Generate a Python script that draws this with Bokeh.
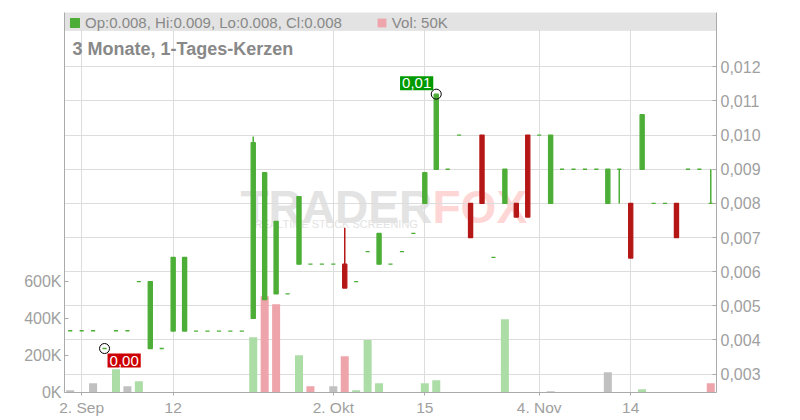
import numpy as np
from bokeh.plotting import figure
from bokeh.models import (Range1d, LinearAxis, FixedTicker, CustomJSTickFormatter,
                          ColumnDataSource, BoxAnnotation, Label, Legend, LegendItem)
from bokeh.embed import file_html
from bokeh.resources import INLINE

# ---------------- data ----------------
opens = [0.00427, 0.00427, 0.00427, 0.00375, 0.00427, 0.00427, 0.00571, 0.00375, 0.00375, 0.00426,
         0.00426, 0.00426, 0.00426, 0.00426, 0.00426, 0.00426, 0.00463, 0.00518, 0.00535, 0.00535,
         0.00622, 0.00622, 0.00622, 0.00622, 0.00622, 0.00571, 0.00659, 0.00622, 0.00622, 0.00659,
         0.00712, 0.0080, 0.0090, 0.0090, 0.0100, 0.0080, 0.0100, 0.00642, 0.0080, 0.0080,
         0.0100, 0.0100, 0.0080, 0.0090, 0.0090, 0.0090, 0.0090, 0.0080, 0.0090, 0.0080,
         0.0090, 0.0080, 0.0080, 0.0080, 0.0090, 0.0090, 0.0080]
highs = [0.00427, 0.00427, 0.00427, 0.00375, 0.00427, 0.00427, 0.00571, 0.00571, 0.00375, 0.00642,
         0.00642, 0.00426, 0.00426, 0.00426, 0.00426, 0.00426, 0.00996, 0.00890, 0.00747, 0.00535,
         0.00820, 0.00622, 0.00622, 0.00622, 0.00729, 0.00571, 0.00659, 0.00712, 0.00622, 0.00659,
         0.00712, 0.0089, 0.0112, 0.0090, 0.0100, 0.0080, 0.0100, 0.00642, 0.0090, 0.0080,
         0.0100, 0.0100, 0.0100, 0.0090, 0.0090, 0.0090, 0.0090, 0.0090, 0.0090, 0.0080,
         0.0106, 0.0080, 0.0080, 0.0080, 0.0090, 0.0090, 0.0090]
lows = [0.00427, 0.00427, 0.00427, 0.00375, 0.00427, 0.00427, 0.00571, 0.00375, 0.00375, 0.00426,
        0.00426, 0.00426, 0.00426, 0.00426, 0.00426, 0.00426, 0.00463, 0.00518, 0.00535, 0.00535,
        0.00622, 0.00622, 0.00622, 0.00622, 0.00552, 0.00571, 0.00659, 0.00622, 0.00622, 0.00659,
        0.00712, 0.0080, 0.0090, 0.0090, 0.0100, 0.0070, 0.0080, 0.00642, 0.0080, 0.0076,
        0.0076, 0.0100, 0.0080, 0.0090, 0.0090, 0.0090, 0.0090, 0.0080, 0.0080, 0.0064,
        0.0090, 0.0080, 0.0080, 0.0070, 0.0090, 0.0090, 0.0080]
closes = [0.00427, 0.00427, 0.00427, 0.00375, 0.00427, 0.00427, 0.00571, 0.00571, 0.00375, 0.00642,
          0.00642, 0.00426, 0.00426, 0.00426, 0.00426, 0.00426, 0.00978, 0.00890, 0.00747, 0.00535,
          0.00820, 0.00622, 0.00622, 0.00622, 0.00552, 0.00571, 0.00659, 0.00712, 0.00622, 0.00659,
          0.00712, 0.0089, 0.0112, 0.0090, 0.0100, 0.0070, 0.0080, 0.00642, 0.0090, 0.0076,
          0.0076, 0.0100, 0.0100, 0.0090, 0.0090, 0.0090, 0.0090, 0.0090, 0.0090, 0.0064,
          0.0106, 0.0080, 0.0080, 0.0070, 0.0090, 0.0090, 0.0080]
volumes = [12000, 0, 50000, 0, 125000, 34000, 61000, 0, 0, 0,
           0, 0, 0, 0, 0, 0, 297000, 518000, 475000, 0,
           200000, 34000, 0, 34000, 195000, 12000, 283000, 50000, 0, 0,
           0, 50000, 66000, 0, 0, 0, 0, 0, 394000, 0,
           0, 0, 7000, 0, 0, 0, 0, 109000, 0, 0,
           18000, 0, 0, 0, 0, 0, 50000]
tick_index = [1, 9, 23, 31, 41, 49]
tick_labels = ["2. Sep", "12", "2. Okt", "15", "4. Nov", "14"]
price_ticks = [0.003, 0.004, 0.005, 0.006, 0.007, 0.008, 0.009, 0.010, 0.011, 0.012]
volume_ticks = [0, 200000, 400000, 600000]
title_text = "3 Monate, 1-Tages-Kerzen"

# ---------------- styles ----------------
FONT = "Liberation Sans"
UP, DOWN = "#4cae36", "#b51616"
VOL_UP, VOL_DOWN, VOL_FLAT = "#acdda6", "#eda4aa", "#c0c0c0"
GRID = "#dddddd"
AXIS = "#aaaaaa"
TXT = "#a0a0a0"

n = len(closes)
xs = list(range(n))
body_top = [max(o, c) for o, c in zip(opens, closes)]
body_bot = [min(o, c) for o, c in zip(opens, closes)]
colors = [DOWN if c < o else UP for o, c in zip(opens, closes)]
vcolors = []
for i in range(n):
    if i == 0 or closes[i] == closes[i - 1]:
        vcolors.append(VOL_FLAT)
    elif closes[i] > closes[i - 1]:
        vcolors.append(VOL_UP)
    else:
        vcolors.append(VOL_DOWN)

src = ColumnDataSource(dict(x=xs, o=opens, h=highs, l=lows, c=closes, top=body_top,
                            bot=body_bot, color=colors, vol=volumes, vcolor=vcolors))

# ---------------- layout ----------------
W, H = 798, 418
FL, FT = 64, 12
FR = W - 716
FB = H - 392
FW, FH = W - FL - FR, H - FT - FB
X_LO, X_HI = -0.5, n - 0.5
P_LO, P_HI = 0.002462, 0.013591
V_HI = 2046000


def fx(px):
    return X_LO + (px - FL) / FW * (X_HI - X_LO)


def fy(py):
    return P_HI - (py - FT) / FH * (P_HI - P_LO)


p = figure(width=W, height=H, x_range=Range1d(X_LO, X_HI), y_range=Range1d(P_LO, P_HI),
           y_axis_location="right", output_backend="svg", toolbar_location=None,
           min_border_left=FL, min_border_right=FR, min_border_top=FT, min_border_bottom=FB)
p.extra_y_ranges = {"vol": Range1d(0, V_HI)}
p.outline_line_color = None
p.background_fill_color = "white"

# axes
p.xaxis.ticker = FixedTicker(ticks=tick_index)
p.xaxis.major_label_overrides = {t: lab for t, lab in zip(tick_index, tick_labels)}
p.xaxis.axis_line_color = AXIS
p.xaxis.major_tick_line_color = AXIS
p.xaxis.major_tick_in = 0
p.xaxis.major_tick_out = 3
p.xaxis.minor_tick_line_color = None
p.xaxis.major_label_standoff = 3
p.xaxis.major_label_text_font = FONT
p.xaxis.major_label_text_font_size = "15.5px"
p.xaxis.major_label_text_color = TXT

ry = p.yaxis[0]
ry.ticker = FixedTicker(ticks=price_ticks)
ry.formatter = CustomJSTickFormatter(code="return tick.toFixed(3).replace('.', ',');")
ry.axis_line_color = AXIS
ry.major_tick_line_color = AXIS
ry.major_tick_in = 4
ry.major_tick_out = 0
ry.minor_tick_line_color = None
ry.major_label_standoff = 4
ry.major_label_text_font = FONT
ry.major_label_text_font_size = "16px"
ry.major_label_text_color = TXT

ly = LinearAxis(y_range_name="vol", ticker=FixedTicker(ticks=volume_ticks),
                formatter=CustomJSTickFormatter(code="return (tick/1000).toFixed(0) + 'K';"))
ly.axis_line_color = AXIS
ly.major_tick_line_color = AXIS
ly.major_tick_in = 4
ly.major_tick_out = 0
ly.minor_tick_line_color = None
ly.major_label_standoff = 3
ly.major_label_text_font = FONT
ly.major_label_text_font_size = "16px"
ly.major_label_text_color = TXT
p.add_layout(ly, "left")

p.xgrid.ticker = FixedTicker(ticks=tick_index)
p.ygrid.ticker = FixedTicker(ticks=price_ticks)
p.xgrid.grid_line_color = GRID
p.ygrid.grid_line_color = GRID

# watermark
p.add_layout(Label(x=fx(240), y=fy(206), text="TRADER", text_font=FONT, text_font_style="bold",
                   text_font_size="46px", text_color="#e3e3e3", text_baseline="alphabetic", level="image"))
p.add_layout(Label(x=fx(432), y=fy(206), text="FOX", text_font=FONT, text_font_style="bold",
                   text_font_size="46px", text_color="#ffd6d6", text_baseline="alphabetic", level="image"))
p.add_layout(Label(x=fx(254), y=fy(223), text="REALTIME STOCK SCREENING", text_font=FONT,
                   text_font_size="11px", text_color="#e3e3e3", text_baseline="alphabetic", level="image"))

# volume
vol_r = p.vbar(x="x", width=0.7, top="vol", bottom=0, source=src, y_range_name="vol",
               fill_color="vcolor", line_color=None)

# candles
p.segment(x0="x", y0="l", x1="x", y1="h", source=src, line_color="color", line_width=1.5)
body_r = p.vbar(x="x", width=0.36, top="top", bottom="bot", source=src,
                fill_color="color", line_color="color", line_width=1.3)

# high / low markers
ihi = int(np.argmax(highs))
ilo = int(np.argmin(lows))
p.scatter(x=[ihi, ilo], y=[highs[ihi], lows[ilo]], size=10, fill_color=None,
          line_color="black", line_width=1)
p.add_layout(Label(x=ihi, y=highs[ihi], text=f"{highs[ihi]:.2f}".replace(".", ","),
                   x_offset=-3, y_offset=4, text_align="right", text_baseline="bottom",
                   text_font=FONT, text_font_size="15px", text_color="white",
                   background_fill_color="#009900", padding=2))
p.add_layout(Label(x=ilo, y=lows[ilo], text=f"{lows[ilo]:.2f}".replace(".", ","),
                   x_offset=3, y_offset=-5, text_align="left", text_baseline="top",
                   text_font=FONT, text_font_size="15px", text_color="white",
                   background_fill_color="#cc0000", padding=2))

# legend bar
p.add_layout(BoxAnnotation(bottom=fy(30), top=P_HI, fill_color="#e3e3e3", fill_alpha=1.0,
                           line_color="#cccccc", line_width=1, level="underlay"))
last = n - 1
ohlc_text = f"Op:{opens[last]:.3f}, Hi:{highs[last]:.3f}, Lo:{lows[last]:.3f}, Cl:{closes[last]:.3f}"
vol_text = f"Vol: {volumes[last] // 1000}K"
legend = Legend(items=[LegendItem(label=ohlc_text, renderers=[body_r], index=last),
                       LegendItem(label=vol_text, renderers=[vol_r], index=last)],
                orientation="horizontal", location=(5, FH - 20), margin=0, padding=0,
                spacing=34, glyph_width=11, glyph_height=11, label_standoff=5, label_height=20,
                label_text_font=FONT, label_text_font_size="15px", label_text_color="#888888",
                background_fill_alpha=0, border_line_color=None)
p.add_layout(legend)

# title
p.add_layout(Label(x=fx(72), y=fy(48), text=title_text, text_font=FONT, text_font_style="bold",
                   text_font_size="18px", text_color="#888888", text_baseline="middle"))

open("out.html", "w").write(file_html(p, INLINE))
